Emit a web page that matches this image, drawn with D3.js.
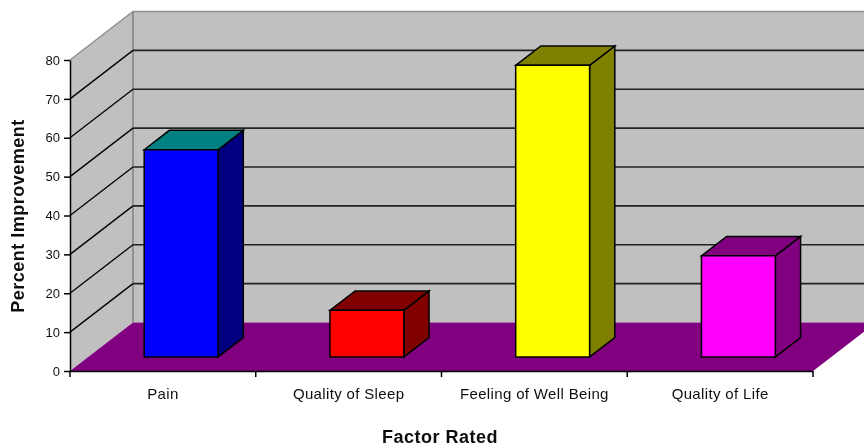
<!DOCTYPE html>
<html>
<head>
<meta charset="utf-8">
<script src="https://cdn.jsdelivr.net/npm/d3@7"></script>
<style>
html, body { margin: 0; padding: 0; background: #fff; }
svg { display: block; }
text { font-family: "Liberation Sans", Arial, sans-serif; fill: #111; }
</style>
</head>
<body>
<div class="chart"></div>
<script>
var categories = ["Pain", "Quality of Sleep", "Feeling of Well Being", "Quality of Life"];
var improvement = [53.3, 12, 75, 26];
var yTicks = [0, 10, 20, 30, 40, 50, 60, 70, 80];
var frontColors = ["#0000ff", "#ff0000", "#ffff00", "#ff00ff"];
var topColors = ["#008080", "#800000", "#808000", "#800080"];
var sideColors = ["#000080", "#800000", "#808000", "#800080"];

var width = 864, height = 447;

var svg = d3.select(".chart").append("svg")
    .attr("width", width)
    .attr("height", height);

// soft edges, the original is an enlarged bitmap
var blur = svg.append("defs").append("filter").attr("id", "soft");
blur.append("feGaussianBlur").attr("stdDeviation", 0.45);

var g = svg.append("g").attr("filter", "url(#soft)");

var xScale = d3.scaleBand().domain(categories).range([70, 813]);
var yScale = d3.scaleLinear().domain([0, 80]).range([371, 60]);

// depth into the page: 0 is the front edge, 1 the back wall
var depthX = 63, depthY = -48.5;

function px(x, d) { return x + depthX * d; }
function py(y, d) { return y + depthY * d; }
function poly(pts) { return pts.map(function(p) { return p.join(","); }).join(" "); }

var x0 = xScale.range()[0], x1 = xScale.range()[1];
var y0 = yScale(0), yTop = yScale(80);

// walls
g.append("polygon")
    .attr("points", poly([[x0, y0], [x0, yTop], [px(x0, 1), py(yTop, 1)], [px(x0, 1), py(y0, 1)]]))
    .attr("fill", "#c0c0c0");
g.append("polygon")
    .attr("points", poly([[px(x0, 1), py(y0, 1)], [px(x0, 1), py(yTop, 1)], [px(x1, 1), py(yTop, 1)], [px(x1, 1), py(y0, 1)]]))
    .attr("fill", "#c0c0c0");

// floor
g.append("polygon")
    .attr("points", poly([[x0, y0], [x1, y0], [px(x1, 1), py(y0, 1)], [px(x0, 1), py(y0, 1)]]))
    .attr("fill", "#800080");

// wall outline
g.append("polyline")
    .attr("points", poly([[x0, yTop], [px(x0, 1), py(yTop, 1)], [px(x1, 1), py(yTop, 1)]]))
    .attr("fill", "none").attr("stroke", "#909090").attr("stroke-width", 1.5);
g.append("line")
    .attr("x1", px(x0, 1)).attr("x2", px(x0, 1))
    .attr("y1", py(yTop, 1)).attr("y2", py(y0, 1))
    .attr("stroke", "#808080").attr("stroke-width", 1.5);

// gridlines, the 80 line is already the top edge
var grid = yTicks.slice(1, -1);
g.selectAll(".side-grid").data(grid).enter().append("line")
    .attr("x1", x0).attr("y1", function(d) { return yScale(d); })
    .attr("x2", px(x0, 1)).attr("y2", function(d) { return py(yScale(d), 1); })
    .attr("stroke", "#000").attr("stroke-width", 1.3);
g.selectAll(".back-grid").data(grid).enter().append("line")
    .attr("x1", px(x0, 1)).attr("y1", function(d) { return py(yScale(d), 1); })
    .attr("x2", px(x1, 1)).attr("y2", function(d) { return py(yScale(d), 1); })
    .attr("stroke", "#222").attr("stroke-width", 1.6);

// bars, placed 0.29 to 0.69 of the way into the floor
var barInset = 74 / 186, dFront = 0.29, dBack = 0.69;
var bars = g.selectAll(".bar").data(categories).enter().append("g").attr("class", "bar");

function barBox(d, i) {
  var w = xScale.bandwidth() * barInset;
  var left = xScale(d) + (xScale.bandwidth() - w) / 2;
  return {left: left, right: left + w, top: yScale(improvement[i]), bottom: y0};
}

bars.append("polygon") // side
    .attr("points", function(d, i) {
      var b = barBox(d, i);
      return poly([[px(b.right, dFront), py(b.top, dFront)], [px(b.right, dBack), py(b.top, dBack)],
                   [px(b.right, dBack), py(b.bottom, dBack)], [px(b.right, dFront), py(b.bottom, dFront)]]);
    })
    .attr("fill", function(d, i) { return sideColors[i]; })
    .attr("stroke", "#000").attr("stroke-width", 1.5);
bars.append("polygon") // top
    .attr("points", function(d, i) {
      var b = barBox(d, i);
      return poly([[px(b.left, dFront), py(b.top, dFront)], [px(b.left, dBack), py(b.top, dBack)],
                   [px(b.right, dBack), py(b.top, dBack)], [px(b.right, dFront), py(b.top, dFront)]]);
    })
    .attr("fill", function(d, i) { return topColors[i]; })
    .attr("stroke", "#000").attr("stroke-width", 1.5);
bars.append("polygon") // front
    .attr("points", function(d, i) {
      var b = barBox(d, i);
      return poly([[px(b.left, dFront), py(b.top, dFront)], [px(b.right, dFront), py(b.top, dFront)],
                   [px(b.right, dFront), py(b.bottom, dFront)], [px(b.left, dFront), py(b.bottom, dFront)]]);
    })
    .attr("fill", function(d, i) { return frontColors[i]; })
    .attr("stroke", "#000").attr("stroke-width", 1.5);

// axes
var yAxis = g.append("g")
    .attr("transform", "translate(" + x0 + ",0)")
    .call(d3.axisLeft(yScale).tickValues(yTicks).tickSize(6).tickPadding(4).tickSizeOuter(0));
var xAxis = g.append("g")
    .attr("transform", "translate(0," + y0 + ")")
    .call(d3.axisBottom(xScale).tickSize(0).tickPadding(17));

yAxis.selectAll("path, line").attr("stroke", "#000").attr("stroke-width", 1.5);
xAxis.selectAll("path").attr("stroke", "#000").attr("stroke-width", 1.5);
yAxis.selectAll("text").attr("font-size", 13);
xAxis.selectAll("text").attr("font-size", 15).attr("letter-spacing", 0.35);

// category boundaries on the x axis
var boundaries = categories.map(function(d) { return xScale(d); }).concat([x1]);
g.selectAll(".x-tick").data(boundaries).enter().append("line")
    .attr("x1", function(d) { return d; }).attr("x2", function(d) { return d; })
    .attr("y1", y0).attr("y2", y0 + 6)
    .attr("stroke", "#000").attr("stroke-width", 1.5);

// titles
g.append("text")
    .attr("x", 440).attr("y", 443)
    .attr("text-anchor", "middle")
    .attr("font-size", 18).attr("font-weight", "bold").attr("letter-spacing", 0.5)
    .text("Factor Rated");
g.append("text")
    .attr("transform", "translate(24,216) rotate(-90)")
    .attr("text-anchor", "middle")
    .attr("font-size", 18).attr("font-weight", "bold").attr("letter-spacing", 0.5)
    .text("Percent Improvement");
</script>
</body>
</html>
